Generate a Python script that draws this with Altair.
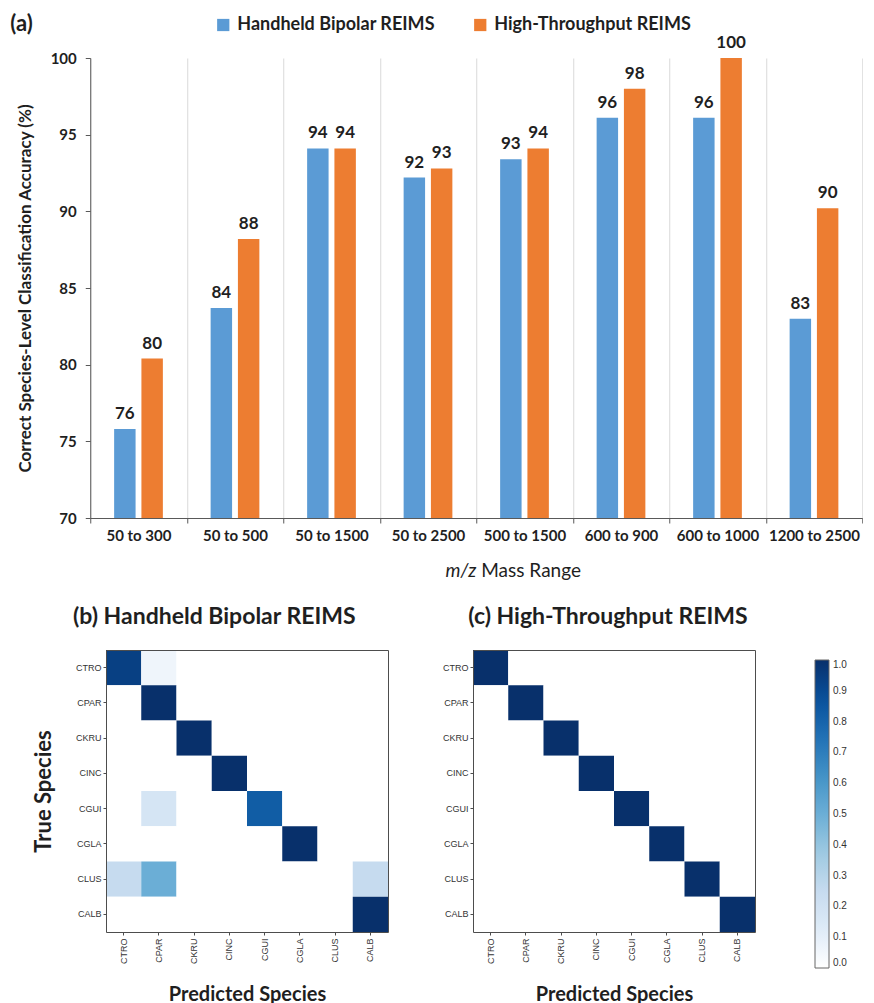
import altair as alt
import pandas as pd

# ---------------- data ----------------
mass_ranges = ["50 to 300", "50 to 500", "50 to 1500", "50 to 2500",
               "500 to 1500", "600 to 900", "600 to 1000", "1200 to 2500"]
handheld_acc = [75.8, 83.7, 94.1, 92.2, 93.4, 96.1, 96.1, 83.0]
highthroughput_acc = [80.4, 88.2, 94.1, 92.8, 94.1, 98.0, 100.0, 90.2]
series_names = ["Handheld Bipolar REIMS", "High-Throughput REIMS"]
series_colors = ["#5B9BD5", "#ED7D31"]
y_ticks = [70, 75, 80, 85, 90, 95, 100]

species = ["CTRO", "CPAR", "CKRU", "CINC", "CGUI", "CGLA", "CLUS", "CALB"]
cm_handheld = [
    [0.94, 0.06, 0, 0, 0, 0, 0, 0],
    [0, 1, 0, 0, 0, 0, 0, 0],
    [0, 0, 1, 0, 0, 0, 0, 0],
    [0, 0, 0, 1, 0, 0, 0, 0],
    [0, 0.17, 0, 0, 0.83, 0, 0, 0],
    [0, 0, 0, 0, 0, 1, 0, 0],
    [0.25, 0.5, 0, 0, 0, 0, 0, 0.25],
    [0, 0, 0, 0, 0, 0, 0, 1],
]
cm_highthroughput = [
    [1, 0, 0, 0, 0, 0, 0, 0],
    [0, 1, 0, 0, 0, 0, 0, 0],
    [0, 0, 1, 0, 0, 0, 0, 0],
    [0, 0, 0, 1, 0, 0, 0, 0],
    [0, 0, 0, 0, 1, 0, 0, 0],
    [0, 0, 0, 0, 0, 1, 0, 0],
    [0, 0, 0, 0, 0, 0, 1, 0],
    [0, 0, 0, 0, 0, 0, 0, 1],
]
blues_stops = [0, 0.125, 0.25, 0.375, 0.5, 0.625, 0.75, 0.875, 1.0]
blues_colors = ["#ffffff", "#deebf7", "#c6dbef", "#9ecae1", "#6baed6",
                "#4292c6", "#2171b5", "#08519c", "#08306b"]
colorbar_ticks = [0.0, 0.1, 0.2, 0.3, 0.4, 0.5, 0.6, 0.7, 0.8, 0.9, 1.0]

FONT = "Lato"
SMALL_FONT = "Liberation Sans"
DARK = "#1f1f1f"
FRAME = "#4d4d4d"

# ---------------- (a) grouped bar chart ----------------
bar_df = pd.DataFrame({
    "range": mass_ranges * 2,
    "series": [series_names[0]] * len(mass_ranges) + [series_names[1]] * len(mass_ranges),
    "acc": handheld_acc + highthroughput_acc,
})

W, H = 772, 460

x_enc = alt.X(
    "range:N", sort=mass_ranges, title=None,
    scale=alt.Scale(paddingInner=0, paddingOuter=0),
    axis=alt.Axis(labelAngle=0, labelFont=FONT, labelFontSize=15, labelFontWeight="bold",
                  labelColor=DARK, labelPadding=5, tickBand="extent", tickSize=5,
                  tickColor="#595959", domainColor="#595959", grid=True,
                  gridColor="#d9d9d9", gridWidth=1),
)
y_enc = alt.Y(
    "acc:Q",
    scale=alt.Scale(domain=[70, 100], nice=False, zero=False),
    axis=alt.Axis(values=y_ticks, title="Correct Species-Level Classification Accuracy (%)",
                  titleFont=FONT, titleFontSize=17, titleFontWeight="bold", titleColor=DARK,
                  titlePadding=16, labelFont=FONT, labelFontSize=15, labelFontWeight="bold",
                  labelColor=DARK, labelPadding=9, tickSize=5, tickColor="#595959",
                  domainColor="#595959", grid=False),
)
xoff_enc = alt.XOffset("series:N", sort=series_names,
                       scale=alt.Scale(paddingInner=0.214, paddingOuter=0.875))
color_enc = alt.Color(
    "series:N", sort=series_names,
    scale=alt.Scale(domain=series_names, range=series_colors),
    legend=alt.Legend(title=None, orient="none", legendX=124, legendY=-42,
                      direction="horizontal", symbolType="square", symbolSize=150,
                      symbolStrokeWidth=0, labelFont=FONT, labelFontSize=18,
                      labelFontWeight="bold", labelColor=DARK, columnPadding=36,
                      labelOffset=5, labelLimit=300, padding=0),
)

bars = alt.Chart(bar_df).mark_bar(clip=True).encode(
    x=x_enc, y=y_enc, y2=alt.datum(70), xOffset=xoff_enc, color=color_enc)
bar_labels = alt.Chart(bar_df).mark_text(
    baseline="alphabetic", dy=-10, font=FONT, fontSize=17, fontWeight="bold", color=DARK
).encode(x=x_enc, y=y_enc, xOffset=xoff_enc, text=alt.Text("acc:Q", format=".0f"))

panel_a = alt.Chart(pd.DataFrame({"t": ["(a)"]})).mark_text(
    align="left", baseline="middle", font=FONT, fontSize=22, fontWeight="bold", color=DARK
).encode(x=alt.value(-80), y=alt.value(-34), text="t:N")

xtitle_1 = alt.Chart(pd.DataFrame({"t": ["m/z"]})).mark_text(
    align="right", baseline="alphabetic", font=FONT, fontSize=19, fontStyle="italic", color=DARK
).encode(x=alt.value(386), y=alt.value(519), text="t:N")
xtitle_2 = alt.Chart(pd.DataFrame({"t": ["Mass Range"]})).mark_text(
    align="left", baseline="alphabetic", font=FONT, fontSize=19, color=DARK
).encode(x=alt.value(391), y=alt.value(519), text="t:N")

top = alt.layer(bars, bar_labels, panel_a, xtitle_1, xtitle_2).properties(width=W, height=H)


# ---------------- (b), (c) confusion matrices ----------------
def matrix_df(matrix):
    rows = []
    for i, t in enumerate(species):
        for j, p in enumerate(species):
            rows.append({"true": t, "pred": p, "val": matrix[i][j]})
    return pd.DataFrame(rows)


def heatmap(matrix, title_text, anchor, dx, legend, ytitle):
    df = matrix_df(matrix)
    yaxis = dict(labelFont=SMALL_FONT, labelFontSize=9, labelColor="#333333", labelPadding=2,
                 tickSize=3, tickColor=FRAME, domain=True, domainColor=FRAME, zindex=1)
    if ytitle:
        yaxis.update(title=ytitle, titleFont=FONT, titleFontSize=22, titleFontWeight="bold",
                     titleColor=DARK, titlePadding=20)
    else:
        yaxis.update(title=None)
    cells = alt.Chart(df).mark_rect().encode(
        x=alt.X("pred:N", sort=species,
                axis=alt.Axis(title="Predicted Species", titleFont=FONT, titleFontSize=20,
                              titleFontWeight="bold", titleColor=DARK, titlePadding=21,
                              labelAngle=270, labelFont=SMALL_FONT, labelFontSize=9,
                              labelColor="#333333", labelPadding=3, tickSize=3,
                              tickColor=FRAME, domain=True, domainColor=FRAME, zindex=1)),
        y=alt.Y("true:N", sort=species, axis=alt.Axis(**yaxis)),
        color=alt.Color("val:Q",
                        scale=alt.Scale(type="linear", domain=blues_stops, range=blues_colors,
                                        interpolate="rgb"),
                        legend=legend),
    )
    # invisible copy carrying the top and right frame lines
    frame = alt.Chart(df).mark_rect(opacity=0).encode(
        x=alt.X("pred:N", sort=species,
                axis=alt.Axis(orient="top", title=None, labels=False, ticks=False,
                              domain=True, domainColor=FRAME, zindex=1)),
        y=alt.Y("true:N", sort=species,
                axis=alt.Axis(orient="right", title=None, labels=False, ticks=False,
                              domain=True, domainColor=FRAME, zindex=1)),
    )
    return alt.layer(cells, frame).resolve_axis(x="independent", y="independent").properties(
        width=282, height=282,
        title=alt.TitleParams(title_text, anchor=anchor, frame="group", dx=dx, font=FONT,
                              fontSize=23, fontWeight="bold", color=DARK,
                              baseline="alphabetic", offset=3),
        view=alt.ViewBackground(strokeWidth=0, fill="#ffffff"),
    )


colorbar_legend = alt.Legend(
    title=None, orient="none", legendX=342, legendY=10, direction="vertical",
    gradientLength=308, gradientThickness=14, gradientStrokeColor="#666666",
    gradientStrokeWidth=1, values=colorbar_ticks, format=".1f", labelFont=SMALL_FONT,
    labelFontSize=10, labelColor="#333333", labelOffset=4, labelOverlap=False, padding=0,
)

hm_b = heatmap(cm_handheld, "(b) Handheld Bipolar REIMS", "start", -33, None, "True Species")
hm_c = heatmap(cm_highthroughput, "(c) High-Throughput REIMS", "middle", -6, colorbar_legend, None)

bottom = alt.hconcat(hm_b, hm_c, spacing=54).resolve_scale(color="independent")

chart = alt.vconcat(top, bottom, spacing=25, center=True).resolve_scale(
    color="independent", x="independent", y="independent"
).configure_view(strokeWidth=0).properties(
    padding={"left": 2, "top": 5, "right": 0, "bottom": 0}
)

chart.save("out.html", embed_options={"renderer": "svg", "actions": False})
